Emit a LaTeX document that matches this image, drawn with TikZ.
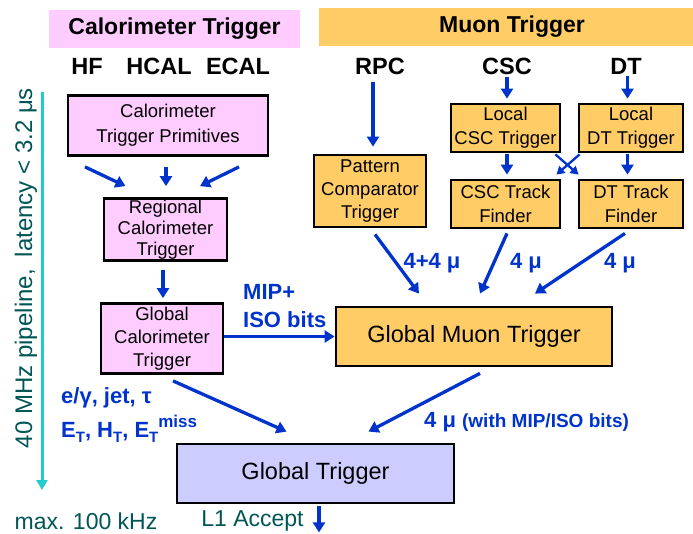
\documentclass[tikz,border=0pt]{standalone}
\usepackage{fontspec}
\setmainfont{Liberation Sans}
\usetikzlibrary{arrows.meta,calc}
\definecolor{pinkbox}{HTML}{FFCCFF}
\definecolor{orangebox}{HTML}{FFCC66}
\definecolor{lavbox}{HTML}{CCCCFF}
\definecolor{arrblue}{HTML}{0033CC}
\definecolor{tealtext}{HTML}{005555}
\definecolor{cyanline}{HTML}{22CCCC}
\begin{document}
\begin{tikzpicture}[x=1pt,y=-1pt,
  box/.style={draw=black, line width=2.8pt, align=center, inner sep=0pt,
    font=\fontsize{18.5}{23}\selectfont},
  bigbox/.style={box, font=\fontsize{23.5}{26}\selectfont},
  hdr/.style={inner sep=0pt, font=\fontsize{23}{26}\selectfont\bfseries},
  det/.style={inner sep=0pt, font=\fontsize{23.5}{26}\selectfont\bfseries},
  arr/.style={draw=arrblue, line width=3.3pt, -{Triangle[length=10pt,width=12pt]}},
  thinarr/.style={draw=arrblue, line width=2.3pt, -{Triangle[length=8pt,width=9pt]}},
  blbl/.style={inner sep=0pt, text=arrblue, font=\fontsize{22}{28}\selectfont\bfseries},
  tlbl/.style={inner sep=0pt, text=tealtext, font=\fontsize{23}{26}\selectfont}]
\useasboundingbox (0,0) rectangle (693,533);

% headers
\node[fill=pinkbox, minimum width=251pt, minimum height=38pt] (calhdr) at (174.5,28.5) {};
\node[hdr] (calhdrt) at (174.5,29) {Calorimeter Trigger};
\node[fill=orangebox, minimum width=374pt, minimum height=38pt] (muhdr) at (506,26.5) {};
\node[hdr] (muhdrt) at (512,27) {Muon Trigger};

% detector labels
\node[det] (hf) at (87,66) {HF};
\node[det] (hcal) at (159,66) {HCAL};
\node[det] (ecal) at (238,66) {ECAL};
\node[det] (rpc) at (380,66) {RPC};
\node[det] (csc) at (507,66) {CSC};
\node[det] (dt) at (626,66) {DT};

% calorimeter chain
\node[box, fill=pinkbox, minimum width=200pt, minimum height=60pt, font=\fontsize{18.5}{25}\selectfont] (ctp) at (168,125.5) {Calorimeter\\Trigger Primitives};
\node[box, fill=pinkbox, minimum width=123pt, minimum height=62pt, font=\fontsize{18.5}{21}\selectfont] (rct) at (165.5,229.5) {Regional\\Calorimeter\\Trigger};
\node[box, fill=pinkbox, minimum width=122pt, minimum height=70pt] (gct) at (162,338.5) {Global\\Calorimeter\\Trigger};

% muon chain
\node[box, fill=orangebox, minimum width=112pt, minimum height=72pt] (pct) at (370,191) {Pattern\\Comparator\\Trigger};
\node[box, fill=orangebox, minimum width=109pt, minimum height=48pt, font=\fontsize{18.5}{24}\selectfont] (lcsc) at (505.5,128) {Local\\CSC Trigger};
\node[box, fill=orangebox, minimum width=104pt, minimum height=48pt, font=\fontsize{18.5}{24}\selectfont] (ldt) at (631,128) {Local\\DT Trigger};
\node[box, fill=orangebox, minimum width=109pt, minimum height=48pt, font=\fontsize{18.5}{24}\selectfont] (csctf) at (505.5,204) {CSC Track\\Finder};
\node[box, fill=orangebox, minimum width=104pt, minimum height=48pt, font=\fontsize{18.5}{24}\selectfont] (dttf) at (631,204) {DT Track\\Finder};
\node[bigbox, fill=orangebox, minimum width=276pt, minimum height=59pt] (gmt) at (474,336.5) {Global Muon Trigger};

% global trigger
\node[bigbox, fill=lavbox, minimum width=277pt, minimum height=59pt] (gt) at (315.5,473.5) {Global Trigger};

% calorimeter arrows
\draw[arr] ($(ctp.south)+(-83,10)$) -- ($(rct.north)+(-40,-11)$);
\draw[arr] ($(ctp.south)+(-2,10)$) -- ($(rct.north)+(0.5,-11)$);
\draw[arr] ($(ctp.south)+(71,10)$) -- ($(rct.north)+(34.5,-11)$);
\draw[arr] ($(rct.south)+(-2.5,8)$) -- ($(gct.north)+(1,-4)$);
\draw[arr] (gct.east |- gmt.west) -- (gmt.west);

% muon arrows
\draw[arr] ($(rpc.south)+(-7,7)$) -- ($(pct.north)+(3,-7)$);
\draw[arr] ($(csc.south)+(0,2)$) -- ($(lcsc.north)+(1.5,-4)$);
\draw[arr] ($(dt.south)+(1.5,2)$) -- ($(ldt.north)+(-3.5,-4)$);
\draw[arr] ($(lcsc.south)+(1.5,1)$) -- ($(csctf.north)+(1.5,-4)$);
\draw[arr] ($(ldt.south)+(-3.5,1)$) -- ($(dttf.north)+(-3.5,-4)$);
\draw[thinarr] ($(lcsc.south east)+(-6,1)$) -- ($(dttf.north west)+(1,-4)$);
\draw[thinarr] ($(ldt.south west)+(2,1)$) -- ($(csctf.north east)+(-5,-4)$);

\draw[arr] ($(pct.south)+(5,6)$) -- ($(gmt.north)+(-55,-12)$);
\draw[arr] ($(csctf.south)+(1.5,4)$) -- ($(gmt.north)+(6,-12)$);
\draw[arr] ($(dttf.south)+(-6,4)$) -- ($(gmt.north)+(61,-12)$);

% into global trigger
\draw[arr] ($(gct.south)+(11,6)$) -- ($(gt.north)+(-29,-11)$);
\draw[arr] ($(gmt.south)+(6,6)$) -- ($(gt.north)+(53,-11)$);
\coordinate (l1end) at ($(gt.south)+(3.5,28)$);
\draw[arr] ($(gt.south)+(3.5,2)$) -- (l1end);

% blue labels
\node[blbl, anchor=west, align=left] (mipiso) at (243,306) {MIP+\\ISO bits};
\node[blbl] (l44) at (432,263) {4+4 μ};
\node[blbl] (l4a) at (526,263) {4 μ};
\node[blbl] (l4b) at (620,263) {4 μ};
\node[blbl, anchor=west] (l4c) at (424,422) {4 μ {\fontsize{19}{22}\selectfont (with MIP/ISO bits)}};
\node[blbl, anchor=west] (egj) at (61,398) {e/γ, jet, τ};
\node[blbl, anchor=base west] (eth) at (61,437) {E\raisebox{-5pt}{\fontsize{15}{15}\selectfont T}, H\raisebox{-5pt}{\fontsize{15}{15}\selectfont T}, E\raisebox{-5pt}{\fontsize{15}{15}\selectfont T}\raisebox{10pt}{\fontsize{17}{17}\selectfont miss}};

% latency
\coordinate (cyantop) at (42,92);
\coordinate (cyanbot) at (42,490);
\draw[draw=cyanline, line width=3pt, -{Triangle[length=10pt,width=11pt]}] (cyantop) -- (cyanbot);
\node[tlbl, rotate=90, font=\fontsize{24}{26}\selectfont] (lat) at (26,268) {40 MHz pipeline,\hspace{12pt}latency < 3.2 μs};
\node[tlbl] (maxrate) at (86,521) {max. 100 kHz};
\node[tlbl] (l1acc) at (252.5,521) {L1 Accept};
\end{tikzpicture}
\end{document}
